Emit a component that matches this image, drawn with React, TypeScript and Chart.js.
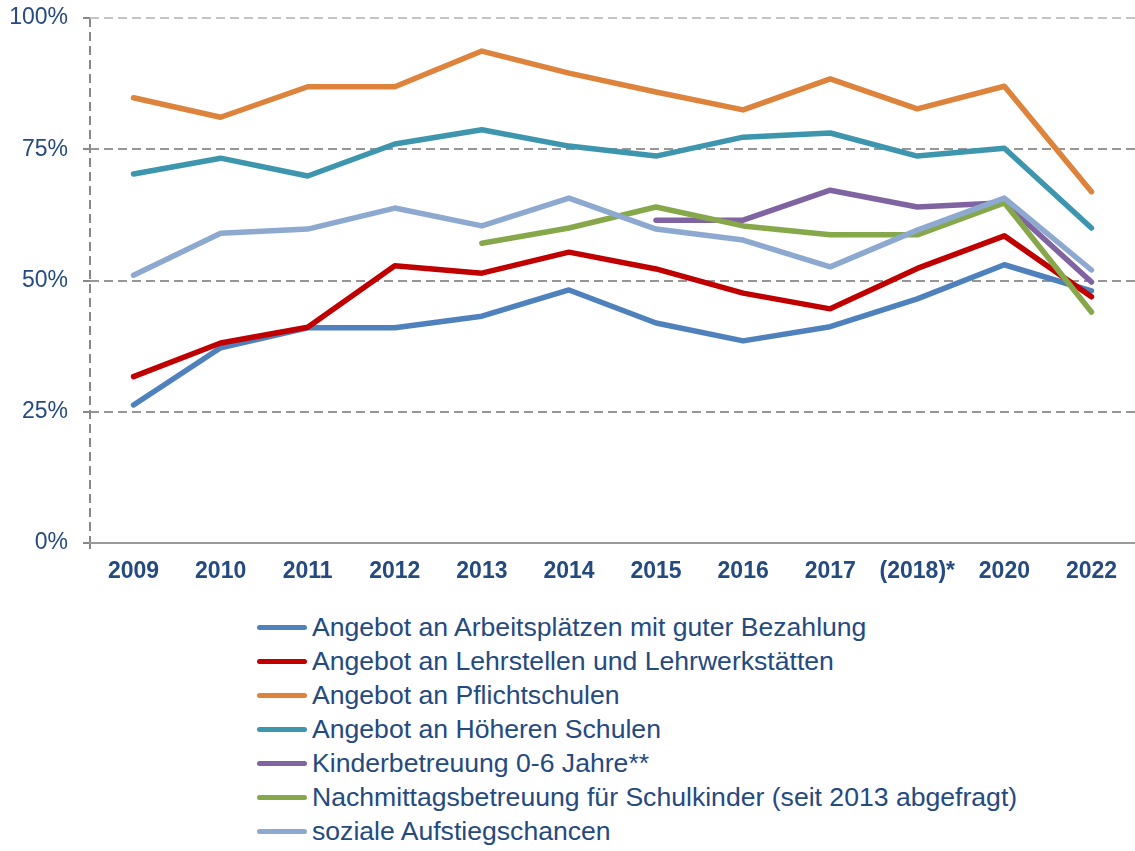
import React, { useEffect, useRef } from "react";
import { Chart, registerables } from "chart.js";

Chart.register(...registerables);

const categories = ["2009", "2010", "2011", "2012", "2013", "2014", "2015", "2016", "2017", "(2018)*", "2020", "2022"];
const yTicks = [0, 25, 50, 75, 100];

const arbeitsplaetze = [26.3, 37.2, 41.0, 41.0, 43.2, 48.2, 41.9, 38.5, 41.2, 46.5, 53.0, 48.0];
const lehrstellen = [31.7, 38.1, 41.1, 52.8, 51.4, 55.4, 52.2, 47.6, 44.6, 52.3, 58.5, 46.9];
const pflichtschulen = [84.8, 81.1, 86.9, 86.9, 93.7, 89.5, 85.9, 82.5, 88.4, 82.7, 87.0, 66.9];
const hoehereSchulen = [70.3, 73.3, 69.9, 76.0, 78.7, 75.6, 73.7, 77.3, 78.1, 73.7, 75.2, 60.0];
const kinderbetreuung = [null, null, null, null, null, null, 61.5, 61.5, 67.2, 64.0, 64.8, 49.7];
const nachmittag = [null, null, null, null, 57.1, 60.0, 64.0, 60.4, 58.7, 58.7, 64.8, 44.0];
const aufstieg = [51.0, 59.0, 59.8, 63.8, 60.4, 65.7, 59.8, 57.7, 52.6, 59.6, 65.7, 52.0];

const seriesLabels = [
  "Angebot an Arbeitsplätzen mit guter Bezahlung",
  "Angebot an Lehrstellen und Lehrwerkstätten",
  "Angebot an Pflichtschulen",
  "Angebot an Höheren Schulen",
  "Kinderbetreuung 0-6 Jahre**",
  "Nachmittagsbetreuung für Schulkinder (seit 2013 abgefragt)",
  "soziale Aufstiegschancen",
];
const seriesData = [arbeitsplaetze, lehrstellen, pflichtschulen, hoehereSchulen, kinderbetreuung, nachmittag, aufstieg];
const seriesColors = ["#4F81BD", "#C00000", "#DD833C", "#3E96AE", "#8064A2", "#86A84B", "#8EA9D0"];

const TEXT = "#254A7F";
const FONT = "'Liberation Sans', Arial, sans-serif";

export default function App() {
  const ref = useRef<HTMLCanvasElement>(null);

  useEffect(() => {
    if (!ref.current) return;
    const chart = new Chart(ref.current, {
      type: "line",
      data: {
        labels: categories,
        datasets: seriesData.map((d, i) => ({
          label: seriesLabels[i],
          data: d,
          borderColor: seriesColors[i],
          backgroundColor: seriesColors[i],
          borderWidth: 5.5,
          pointRadius: 0,
          borderCapStyle: "round",
          borderJoinStyle: "round",
          tension: 0,
          fill: false,
          order: seriesData.length - 1 - i,
        })),
      },
      options: {
        animation: false,
        responsive: false,
        maintainAspectRatio: false,
        layout: { padding: { top: 18, left: 0, right: 0, bottom: 0 } },
        plugins: { legend: { display: false }, tooltip: { enabled: false } },
        scales: {
          x: {
            type: "category",
            offset: true,
            grid: {
              offset: true,
              drawOnChartArea: true,
              drawTicks: true,
              tickLength: 6,
              lineWidth: 2,
              color: (ctx: any) => (ctx.index === 0 ? "#888888" : "rgba(0,0,0,0)"),
            },
            border: { display: true, color: "#999999", width: 2, dash: [9, 5] },
            ticks: {
              color: TEXT,
              font: { family: FONT, size: 23, weight: "bold" },
              padding: 9,
              maxRotation: 0,
              autoSkip: false,
            },
            afterFit: (s: any) => {
              s.height = 57;
              s.paddingLeft = 0;
              s.paddingRight = 0;
            },
          },
          y: {
            min: 0,
            max: 100,
            afterBuildTicks: (s: any) => {
              s.ticks = yTicks.map((v) => ({ value: v }));
            },
            grid: {
              drawTicks: true,
              tickLength: 7,
              lineWidth: 2,
              tickWidth: 2,
              tickColor: "#888888",
              tickBorderDash: [],
              color: (ctx: any) => {
                const v = ctx.tick ? ctx.tick.value : null;
                if (v === 0) return "rgba(0,0,0,0)";
                if (v === 100) return "#c4c4c4";
                return "#969696";
              },
            },
            border: { display: false, dash: [9, 5] },
            ticks: {
              color: TEXT,
              font: { family: FONT, size: 23 },
              padding: 15,
              callback: (v: any) => v + "%",
            },
            afterFit: (s: any) => {
              s.width = 90;
              s.paddingTop = 0;
              s.paddingBottom = 0;
            },
          },
        },
      },
    });
    return () => chart.destroy();
  }, []);

  return (
    <div style={{ position: "absolute", left: 0, top: 0, width: 1135, height: 851, background: "#ffffff" }}>
      <canvas ref={ref} width={1135} height={600} style={{ position: "absolute", left: 0, top: 0, width: 1135, height: 600 }} />
      <div style={{ position: "absolute", left: 257, top: 610, fontFamily: FONT, fontSize: 26.6, color: TEXT }}>
        {seriesLabels.map((label, i) => (
          <div key={label} style={{ display: "flex", alignItems: "center", height: 34, whiteSpace: "nowrap" }}>
            <span
              style={{
                display: "inline-block",
                width: 50,
                height: 5,
                borderRadius: 3,
                background: seriesColors[i],
                marginRight: 5,
              }}
            />
            <span style={{ lineHeight: "34px" }}>{label}</span>
          </div>
        ))}
      </div>
    </div>
  );
}
